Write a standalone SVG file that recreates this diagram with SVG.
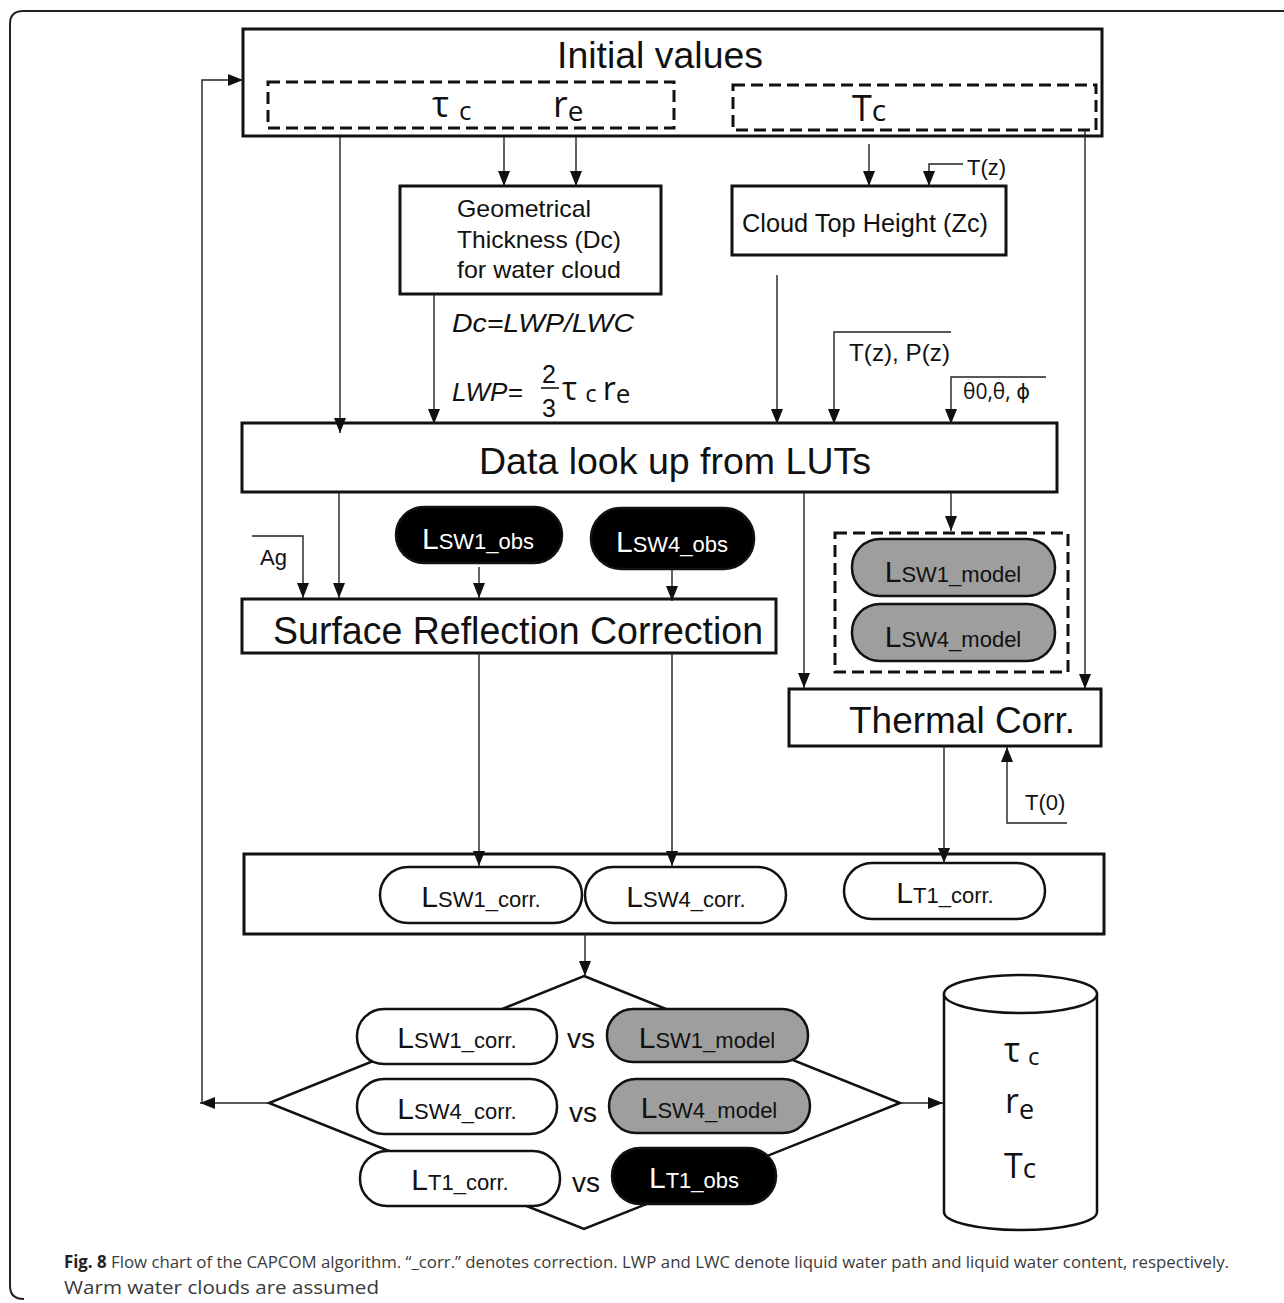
<svg xmlns="http://www.w3.org/2000/svg" width="1284" height="1303" viewBox="0 0 1284 1303">
<defs>
<style>
.box{fill:#fff;stroke:#111;stroke-width:3}
.dash{fill:none;stroke:#111;stroke-width:3;stroke-dasharray:12 6}
.ln{fill:none;stroke:#222;stroke-width:1.4}
.arr{marker-end:url(#ah)}
.t{font-family:"Liberation Sans",Arial,sans-serif;fill:#111}
.g{font-family:"Open Sans","DejaVu Sans",sans-serif;fill:#111}
.pw{fill:#fff;stroke:#111;stroke-width:2.5}
.pb{fill:#000;stroke:#111;stroke-width:2.5}
.pg{fill:#9e9e9e;stroke:#111;stroke-width:2.5}
.pt{font-family:"Liberation Sans",Arial,sans-serif;font-size:30px;text-anchor:middle;fill:#111}
.pt tspan{font-size:22px}
.wt{fill:#fff}
.cap{font-family:"Open Sans","Liberation Sans",sans-serif;fill:#3a3a3a}
</style>
<marker id="ah" markerWidth="15" markerHeight="12" refX="15" refY="6" orient="auto" markerUnits="userSpaceOnUse">
<path d="M0,0 L15,6 L0,12 z" fill="#111"/>
</marker>
</defs>
<rect width="1284" height="1303" fill="#fff"/>
<path d="M 24 1299 Q 10 1299 10 1286 L 10 24 Q 10 11 23 11 L 1284 11" fill="none" stroke="#222" stroke-width="2"/>

<g id="initial-values">
<rect class="box" x="243" y="29" width="859" height="107"/>
<text class="t" x="557" y="68" font-size="37" textLength="206" lengthAdjust="spacingAndGlyphs">Initial values</text>
<rect class="dash" x="268" y="82" width="406" height="46"/>
<text class="g" x="432" y="117" font-size="36">τ<tspan font-size="26" dx="10" dy="3">c</tspan></text>
<text class="g" x="553" y="117" font-size="36">r<tspan font-size="28" dy="4">e</tspan></text>
<rect class="dash" x="733" y="85" width="363" height="45"/>
<text class="g" x="852" y="121" font-size="36">T<tspan font-size="30">c</tspan></text>
</g>

<g id="geometrical-thickness">
<rect class="box" x="400" y="186" width="261" height="108"/>
<text class="t" x="457" y="217" font-size="24" textLength="134" lengthAdjust="spacingAndGlyphs">Geometrical</text>
<text class="t" x="457" y="248" font-size="24" textLength="164" lengthAdjust="spacingAndGlyphs">Thickness (Dc)</text>
<text class="t" x="457" y="278" font-size="24" textLength="164" lengthAdjust="spacingAndGlyphs">for water cloud</text>
</g>

<g id="cloud-top-height">
<rect class="box" x="732" y="186" width="274" height="69"/>
<text class="t" x="742" y="232" font-size="25" textLength="246" lengthAdjust="spacingAndGlyphs">Cloud Top Height (Zc)</text>
</g>

<g id="labels">
<text class="t" x="967" y="175" font-size="22">T(z)</text>
<text class="t" x="452" y="332" font-size="26" font-style="italic" textLength="182" lengthAdjust="spacingAndGlyphs">Dc=LWP/LWC</text>
<text class="t" x="452" y="401" font-size="26" font-style="italic">LWP=</text>
<text class="t" x="542" y="383" font-size="25">2</text>
<line x1="541" y1="388" x2="559" y2="388" stroke="#111" stroke-width="1.6"/>
<text class="t" x="542" y="417" font-size="25">3</text>
<text class="g" x="562" y="400" font-size="32">τ<tspan font-size="24" dx="8" dy="2">c</tspan><tspan font-size="32" dx="6" dy="-2">r</tspan><tspan font-size="26" dy="3">e</tspan></text>
<text class="t" x="849" y="361" font-size="24" textLength="101" lengthAdjust="spacingAndGlyphs">T(z), P(z)</text>
<text class="g" x="963" y="399" font-size="21">θ0,θ, ϕ</text>
<text class="t" x="260" y="565" font-size="22">Ag</text>
<text class="t" x="1025" y="810" font-size="22">T(0)</text>
</g>

<g id="data-lookup">
<rect class="box" x="242" y="423" width="815" height="69"/>
<text class="t" x="479" y="474" font-size="37" textLength="392" lengthAdjust="spacingAndGlyphs">Data look up from LUTs</text>
</g>

<g id="lsw1-obs">
<rect class="pb" x="396" y="507" width="166" height="56" rx="28"/>
<text class="pt wt" x="478" y="549">L<tspan>SW1_obs</tspan></text>
</g>
<g id="lsw4-obs">
<rect class="pb" x="591" y="508" width="163" height="61" rx="30"/>
<text class="pt wt" x="672" y="552">L<tspan>SW4_obs</tspan></text>
</g>

<g id="surface-reflection-correction">
<rect class="box" x="242" y="599" width="534" height="54"/>
<text class="t" x="273" y="644" font-size="38" textLength="490" lengthAdjust="spacingAndGlyphs">Surface Reflection Correction</text>
</g>

<g id="model-group">
<rect class="dash" x="835" y="533" width="233" height="139"/>
<rect class="pg" x="852" y="539" width="203" height="57" rx="28"/>
<text class="pt" x="953" y="582">L<tspan>SW1_model</tspan></text>
<rect class="pg" x="852" y="604" width="203" height="57" rx="28"/>
<text class="pt" x="953" y="647">L<tspan>SW4_model</tspan></text>
</g>

<g id="thermal-corr">
<rect class="box" x="789" y="689" width="312" height="57"/>
<text class="t" x="849" y="733" font-size="37" textLength="226" lengthAdjust="spacingAndGlyphs">Thermal Corr.</text>
</g>

<g id="corrected-values">
<rect class="box" x="244" y="854" width="860" height="80"/>
<rect class="pw" x="380" y="867" width="202" height="56" rx="28"/>
<text class="pt" x="481" y="907">L<tspan>SW1_corr.</tspan></text>
<rect class="pw" x="585" y="867" width="201" height="56" rx="28"/>
<text class="pt" x="686" y="907">L<tspan>SW4_corr.</tspan></text>
<rect class="pw" x="844" y="863" width="201" height="56" rx="28"/>
<text class="pt" x="945" y="903">L<tspan>T1_corr.</tspan></text>
</g>

<g id="comparison">
<polygon points="584,976 900,1103 584,1229 269,1103" fill="#fff" stroke="#111" stroke-width="2.5"/>
<rect class="pw" x="357" y="1009" width="200" height="55" rx="27"/>
<text class="pt" x="457" y="1048">L<tspan>SW1_corr.</tspan></text>
<text class="t" x="567" y="1048" font-size="28">vs</text>
<rect class="pg" x="607" y="1009" width="201" height="53" rx="26"/>
<text class="pt" x="707" y="1048">L<tspan>SW1_model</tspan></text>
<rect class="pw" x="357" y="1079" width="200" height="55" rx="27"/>
<text class="pt" x="457" y="1119">L<tspan>SW4_corr.</tspan></text>
<text class="t" x="569" y="1122" font-size="28">vs</text>
<rect class="pg" x="609" y="1079" width="201" height="54" rx="27"/>
<text class="pt" x="709" y="1118">L<tspan>SW4_model</tspan></text>
<rect class="pw" x="360" y="1151" width="200" height="55" rx="27"/>
<text class="pt" x="460" y="1190">L<tspan>T1_corr.</tspan></text>
<text class="t" x="572" y="1192" font-size="28">vs</text>
<rect class="pb" x="612" y="1148" width="164" height="56" rx="28"/>
<text class="pt wt" x="694" y="1188">L<tspan>T1_obs</tspan></text>
</g>

<g id="output-database">
<path d="M944,994 L944,1212 A76.5,18 0 0 0 1097,1212 L1097,994" fill="#fff" stroke="#111" stroke-width="2.5"/>
<ellipse cx="1020.5" cy="994" rx="76.5" ry="19" fill="#fff" stroke="#111" stroke-width="2.5"/>
<text class="g" x="1004" y="1062" font-size="34">τ<tspan font-size="24" dx="8" dy="3">c</tspan></text>
<text class="g" x="1005" y="1113" font-size="34">r<tspan font-size="27" dy="6">e</tspan></text>
<text class="g" x="1004" y="1178" font-size="34">T<tspan font-size="28">c</tspan></text>
</g>

<g id="connectors">
<line class="ln arr" x1="340" y1="137" x2="340" y2="433"/>
<line class="ln arr" x1="504" y1="137" x2="504" y2="186"/>
<line class="ln arr" x1="576" y1="137" x2="576" y2="186"/>
<line class="ln arr" x1="869" y1="144" x2="869" y2="186"/>
<polyline class="ln arr" points="963,164 929,164 929,186"/>
<line class="ln arr" x1="1085" y1="131" x2="1085" y2="689"/>
<line class="ln arr" x1="434" y1="294" x2="434" y2="424"/>
<line class="ln arr" x1="777" y1="275" x2="777" y2="424"/>
<polyline class="ln arr" points="951,332 834,332 834,424"/>
<polyline class="ln arr" points="1046,377 951,377 951,424"/>
<line class="ln arr" x1="339" y1="493" x2="339" y2="598"/>
<polyline class="ln arr" points="252,536 303,536 303,598"/>
<line class="ln arr" x1="479" y1="567" x2="479" y2="598"/>
<line class="ln arr" x1="672" y1="570" x2="672" y2="601"/>
<line class="ln arr" x1="804" y1="493" x2="804" y2="688"/>
<line class="ln arr" x1="951" y1="493" x2="951" y2="531"/>
<line class="ln arr" x1="479" y1="653" x2="479" y2="866"/>
<line class="ln arr" x1="672" y1="653" x2="672" y2="866"/>
<line class="ln arr" x1="944" y1="746" x2="944" y2="863"/>
<polyline class="ln arr" points="1067,823 1007,823 1007,747"/>
<line class="ln arr" x1="585" y1="934" x2="585" y2="976"/>
<line class="ln arr" x1="269" y1="1103" x2="200" y2="1103"/>
<polyline class="ln arr" points="202,1103 202,80 243,80"/>
<line class="ln arr" x1="900" y1="1103" x2="943" y2="1103"/>
</g>

<g id="caption">
<text class="cap" x="64" y="1268" font-size="17" textLength="1165" lengthAdjust="spacingAndGlyphs"><tspan font-weight="bold" fill="#222">Fig. 8</tspan> Flow chart of the CAPCOM algorithm. “_corr.” denotes correction. LWP and LWC denote liquid water path and liquid water content, respectively.</text>
<text class="cap" x="64" y="1294" font-size="18.5" textLength="315" lengthAdjust="spacingAndGlyphs">Warm water clouds are assumed</text>
</g>
</svg>
